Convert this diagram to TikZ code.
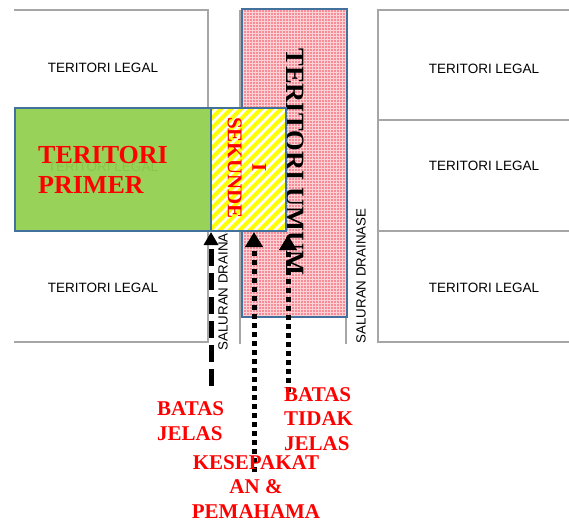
\documentclass[tikz,border=0pt]{standalone}
\usepackage{fontspec}
\setmainfont{Liberation Serif}
\newfontfamily\arialf{Liberation Sans}
\usetikzlibrary{arrows.meta,patterns}
\definecolor{lotgray}{RGB}{166,166,166}
\definecolor{boxblue}{RGB}{65,113,156}
\definecolor{primgreen}{RGB}{146,208,80}
\definecolor{umumpink}{RGB}{248,140,150}
\definecolor{stripey}{RGB}{255,255,0}
\tikzset{
  lot/.style={draw=lotgray,line width=1.3pt},
  legal/.style={font=\arialf\fontsize{13.5}{15}\selectfont,inner sep=0pt},
  drain/.style={font=\arialf\fontsize{13.3}{15}\selectfont,inner sep=0pt,rotate=90},
  area/.style={draw=boxblue,line width=2pt},
  redlbl/.style={text=red,font=\bfseries\fontsize{21}{24.5}\selectfont,inner sep=0pt},
  dasharrow/.style={line width=5pt,dash pattern=on 17pt off 7pt,-{Triangle[length=13pt,width=14pt]}},
  dotarrow/.style={line width=5pt,dash pattern=on 5pt off 4pt,-{Triangle[length=15pt,width=17pt]}},
}
\begin{document}
\begin{tikzpicture}[x=1pt,y=-1pt]
\useasboundingbox (0,0) rectangle (569,522);
% lot lines
\draw[lot] (14,10) -- (208,10) -- (208,108);
\draw[lot] (208,230) -- (208,342) -- (14,342);
\draw[lot] (240,10) -- (240,344);
\draw[lot] (346,10) -- (346,344);
\draw[lot] (569,10) -- (378,10) -- (378,342) -- (569,342);
\draw[lot] (378,120) -- (569,120);
\draw[lot] (378,231) -- (569,231);
% legal labels
\node[legal] (l1) at (103,68) {TERITORI LEGAL};
\node[legal] (l2) at (103,288) {TERITORI LEGAL};
\node[legal] (l3) at (484,69) {TERITORI LEGAL};
\node[legal] (l4) at (484,166) {TERITORI LEGAL};
\node[legal] (l5) at (484,288) {TERITORI LEGAL};
\node[legal] (lhid) at (103,167) {TERITORI LEGAL};
% drainage labels
\node[drain] (d1) at (223,283) {SALURAN DRAINASE};
\node[drain] (d2) at (361,276) {SALURAN DRAINASE};
% umum
\fill[umumpink] (242,9) rectangle (347,317);
\fill[pattern=grid,pattern color=white!60!umumpink] (242,9) rectangle (347,317);
\draw[area] (242,9) rectangle (347,317);
\node[rotate=-90,font=\bfseries\fontsize{26.5}{30}\selectfont,inner sep=0pt] (umum) at (295,162) {TERITORI UMUM};
% primer
\fill[primgreen,fill opacity=0.95] (15,108) rectangle (210.5,230.5);
\draw[area] (15,108) rectangle (210.5,230.5);
\node[redlbl,font=\bfseries\fontsize{26}{30}\selectfont,align=left,anchor=base west] (prim) at (38,193) {TERITORI\\PRIMER};
% sekunder
\fill[white] (210.5,108) rectangle (286,230.5);
\begin{scope}
\clip (210.5,108) rectangle (286,230.5);
\foreach \s in {60,70,...,300}{
  \draw[stripey,line width=4pt] (\s,240) -- (\s+140,100);
}
\end{scope}
\draw[area] (210.5,108) rectangle (286,230.5);
\node[redlbl,rotate=-90,align=center] (sek) at (247,168) {I\\SEKUNDE};
% arrows
\coordinate (a1s) at (211,386);
\coordinate (a1e) at (211,232);
\coordinate (a2s) at (254,472);
\coordinate (a2e) at (254,232);
\coordinate (a3s) at (288,392);
\coordinate (a3e) at (288,235);
\draw[dasharrow] (a1s) -- (a1e);
\draw[dotarrow] (a2s) -- (a2e);
\draw[dotarrow] (a3s) -- (a3e);
% red labels
\node[redlbl,align=left,anchor=base west] (bj) at (157,440) {BATAS\\JELAS};
\node[redlbl,align=left,anchor=base west] (btj) at (284,450) {BATAS\\TIDAK\\JELAS};
\node[redlbl,align=center,anchor=base] (kp) at (256,518) {KESEPAKAT\\AN \&\\PEMAHAMA};
\end{tikzpicture}
\end{document}
